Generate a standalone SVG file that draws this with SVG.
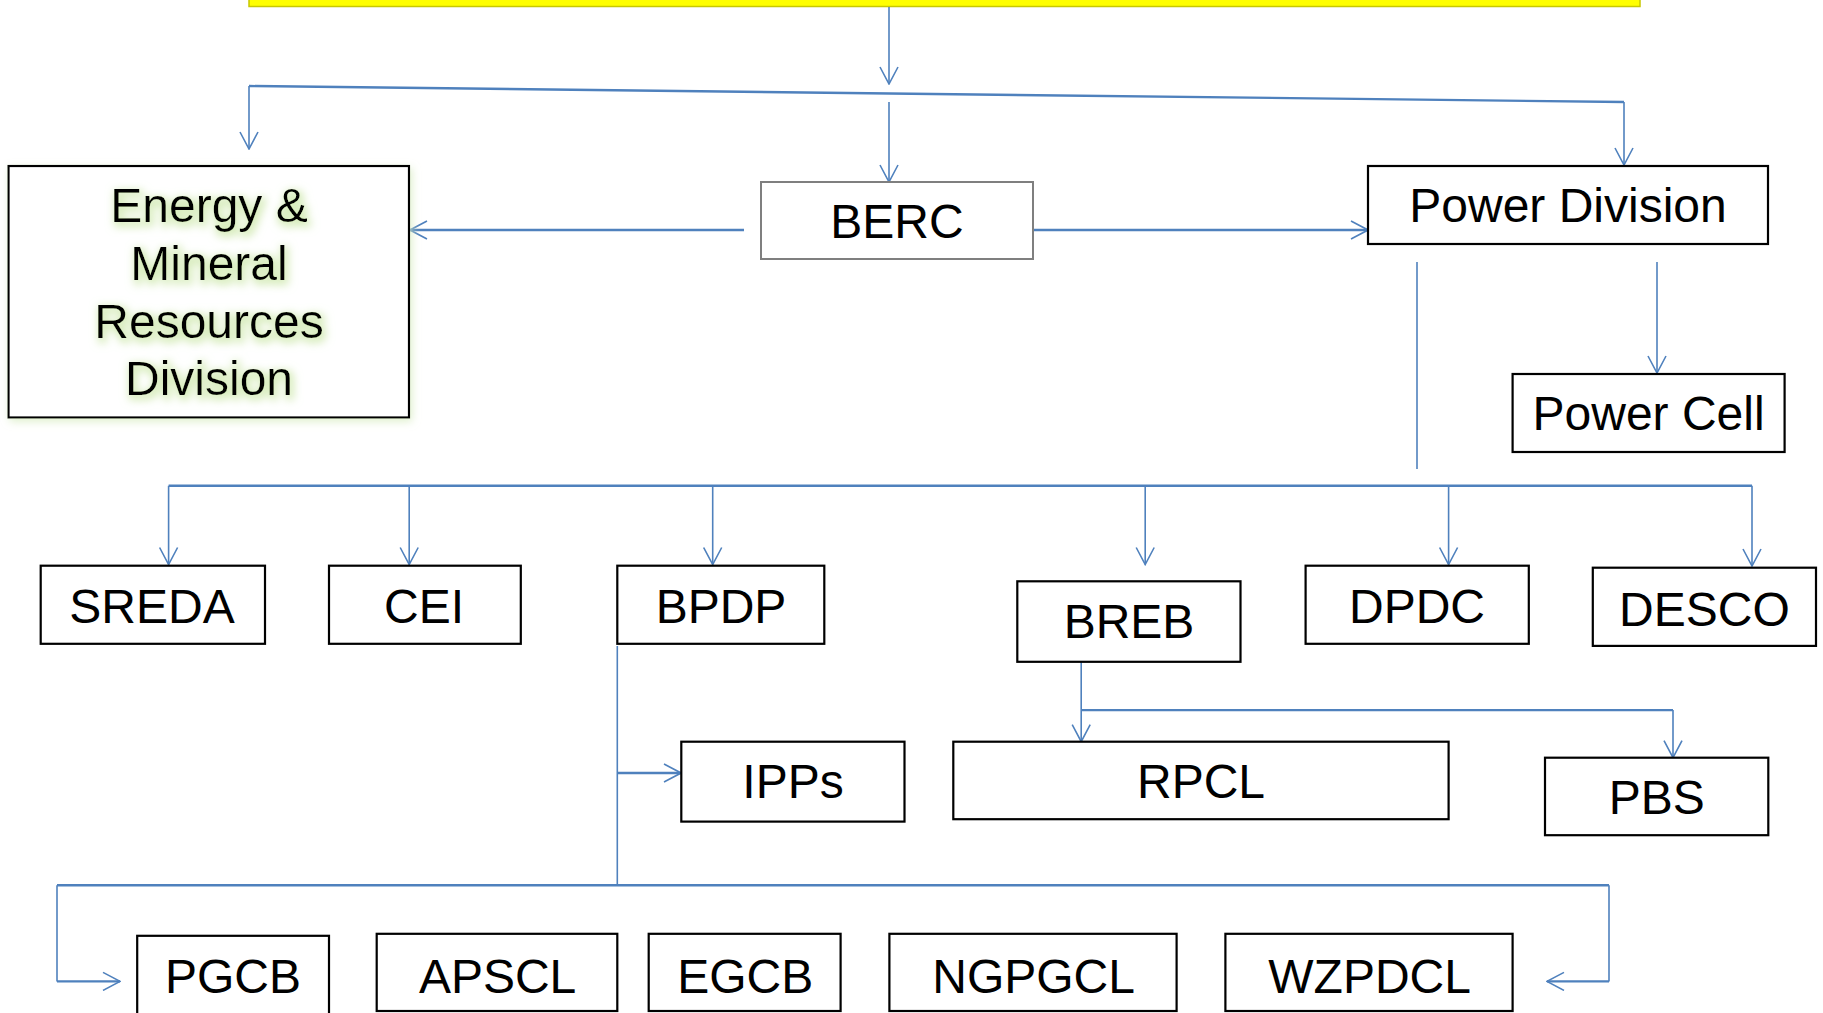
<svg xmlns="http://www.w3.org/2000/svg" width="1823" height="1013" viewBox="0 0 1823 1013">
<defs>
<style>
.box{fill:#fff;stroke:#000;stroke-width:2.2}
.gbox{fill:#fff;stroke:#7f7f7f;stroke-width:2}
.t{font-family:"Liberation Sans",Arial,sans-serif;font-size:48px;fill:#000;text-anchor:middle}
.c{fill:none;stroke:#4F81BD;stroke-width:1.6}
.cb{fill:none;stroke:#4F81BD;stroke-width:2.4}
</style>
<marker id="ah" viewBox="0 0 20 20" refX="19" refY="10" markerWidth="20" markerHeight="20" markerUnits="userSpaceOnUse" orient="auto">
<path d="M2,1 L19,10 L2,19" fill="none" stroke="#4F81BD" stroke-width="1.6"/>
</marker>
<filter id="glow" x="-20%" y="-20%" width="140%" height="140%">
<feMorphology in="SourceAlpha" operator="dilate" radius="1.5" result="d"/>
<feGaussianBlur in="d" stdDeviation="4" result="b"/>
<feFlood flood-color="#c4e39c" flood-opacity="0.7"/>
<feComposite in2="b" operator="in" result="g"/>
<feOffset in="g" dx="2" dy="3" result="go"/>
<feMerge><feMergeNode in="go"/><feMergeNode in="SourceGraphic"/></feMerge>
</filter>
<filter id="bglow" x="-10%" y="-10%" width="120%" height="120%">
<feGaussianBlur in="SourceAlpha" stdDeviation="4" result="b"/>
<feFlood flood-color="#d7ecc0" flood-opacity="0.8"/>
<feComposite in2="b" operator="in" result="g"/>
<feOffset in="g" dx="2" dy="3" result="go"/>
<feMerge><feMergeNode in="go"/><feMergeNode in="SourceGraphic"/></feMerge>
</filter>
</defs>
<rect width="1823" height="1013" fill="#fff"/>

<g id="top">
<rect x="249" y="-10" width="1391" height="16.5" fill="#FFFF00" stroke="#c8c800" stroke-width="1.5"/>
</g>

<g id="connectors">
<line class="c" x1="889" y1="7" x2="889" y2="84" marker-end="url(#ah)"/>
<line class="cb" x1="249" y1="86" x2="1624" y2="102"/>
<line class="c" x1="249" y1="86" x2="249" y2="149" marker-end="url(#ah)"/>
<line class="c" x1="1624" y1="102" x2="1624" y2="165" marker-end="url(#ah)"/>
<line class="c" x1="889" y1="102" x2="889" y2="182" marker-end="url(#ah)"/>
<line class="cb" x1="744" y1="230" x2="410" y2="230" marker-end="url(#ah)"/>
<line class="cb" x1="1034" y1="230" x2="1368" y2="230" marker-end="url(#ah)"/>
<line class="c" x1="1417" y1="262" x2="1417" y2="469"/>
<line class="c" x1="1657" y1="262" x2="1657" y2="373" marker-end="url(#ah)"/>
<line class="cb" x1="168.6" y1="485.8" x2="1752" y2="485.8"/>
<line class="c" x1="168.6" y1="485.8" x2="168.6" y2="564.5" marker-end="url(#ah)"/>
<line class="c" x1="409.2" y1="485.8" x2="409.2" y2="564.5" marker-end="url(#ah)"/>
<line class="c" x1="712.7" y1="485.8" x2="712.7" y2="564.5" marker-end="url(#ah)"/>
<line class="c" x1="1145.2" y1="485.8" x2="1145.2" y2="564.5" marker-end="url(#ah)"/>
<line class="c" x1="1448.6" y1="485.8" x2="1448.6" y2="564.5" marker-end="url(#ah)"/>
<line class="c" x1="1752" y1="485.8" x2="1752" y2="566" marker-end="url(#ah)"/>
<line class="c" x1="1081.2" y1="662" x2="1081.2" y2="741.7" marker-end="url(#ah)"/>
<polyline class="cb" points="1081.2,710.1 1673,710.1"/>
<line class="c" x1="1673" y1="710.1" x2="1673" y2="757.7" marker-end="url(#ah)"/>
<line class="c" x1="617.3" y1="646" x2="617.3" y2="885.2"/>
<line class="cb" x1="617.3" y1="773" x2="681" y2="773" marker-end="url(#ah)"/>
<line class="cb" x1="57" y1="885.2" x2="1609" y2="885.2"/>
<polyline class="c" points="57,885.2 57,981.4"/>
<line class="cb" x1="57" y1="981.4" x2="120" y2="981.4" marker-end="url(#ah)"/>
<polyline class="c" points="1609,885.2 1609,981.4"/>
<line class="cb" x1="1609" y1="981.4" x2="1547" y2="981.4" marker-end="url(#ah)"/>
</g>

<g id="energy">
<rect class="box" x="8.5" y="166" width="400.5" height="251.5" filter="url(#bglow)"/>
<g filter="url(#glow)">
<text class="t" x="209" y="221.7">Energy &amp;</text>
<text class="t" x="209" y="280">Mineral</text>
<text class="t" x="209" y="337.7">Resources</text>
<text class="t" x="209" y="395">Division</text>
</g>
</g>
<g id="berc"><rect class="gbox" x="761" y="182" width="272" height="77"/><text class="t" x="897" y="238">BERC</text></g>
<g id="power-division"><rect class="box" x="1368" y="166" width="400" height="78"/><text class="t" x="1568" y="222">Power Division</text></g>
<g id="power-cell"><rect class="box" x="1512.6" y="374" width="272" height="78"/><text class="t" x="1648.6" y="430">Power Cell</text></g>

<g id="sreda"><rect class="box" x="40.7" y="565.7" width="224.3" height="78.1"/><text class="t" x="152" y="623">SREDA</text></g>
<g id="cei"><rect class="box" x="329" y="565.7" width="191.8" height="78.1"/><text class="t" x="424" y="623">CEI</text></g>
<g id="bpdp"><rect class="box" x="617.3" y="565.7" width="207" height="78.1"/><text class="t" x="721" y="623">BPDP</text></g>
<g id="breb"><rect class="box" x="1017.3" y="581.3" width="223.2" height="80.5"/><text class="t" x="1129" y="638">BREB</text></g>
<g id="dpdc"><rect class="box" x="1305.6" y="565.7" width="223.2" height="78.1"/><text class="t" x="1417" y="623">DPDC</text></g>
<g id="desco"><rect class="box" x="1592.8" y="567.7" width="223.2" height="78.2"/><text class="t" x="1704.4" y="625.5">DESCO</text></g>

<g id="ipps"><rect class="box" x="681.3" y="741.7" width="223.2" height="79.9"/><text class="t" x="793" y="798">IPPs</text></g>
<g id="rpcl"><rect class="box" x="953.3" y="741.7" width="495.3" height="77.5"/><text class="t" x="1201" y="798">RPCL</text></g>
<g id="pbs"><rect class="box" x="1545" y="757.7" width="223.3" height="77.5"/><text class="t" x="1656.7" y="814">PBS</text></g>

<g id="pgcb"><rect class="box" x="137.2" y="935.8" width="191.8" height="100"/><text class="t" x="233" y="993">PGCB</text></g>
<g id="apscl"><rect class="box" x="376.7" y="933.8" width="240.6" height="77.2"/><text class="t" x="497.6" y="993">APSCL</text></g>
<g id="egcb"><rect class="box" x="648.7" y="933.8" width="191.9" height="77.2"/><text class="t" x="745.2" y="993">EGCB</text></g>
<g id="ngpgcl"><rect class="box" x="889.4" y="933.8" width="287.2" height="77.2"/><text class="t" x="1033.6" y="993">NGPGCL</text></g>
<g id="wzpdcl"><rect class="box" x="1225.4" y="933.8" width="287.2" height="77.2"/><text class="t" x="1369.6" y="993">WZPDCL</text></g>
</svg>
